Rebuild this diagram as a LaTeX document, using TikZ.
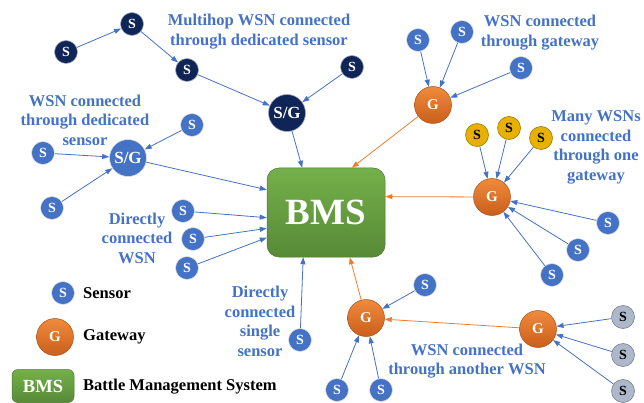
\documentclass[tikz,border=0pt]{standalone}
\usepackage{fontspec}
\setmainfont{Liberation Serif}
\usetikzlibrary{arrows.meta}

\definecolor{wsnblue}{HTML}{4472C4}
\definecolor{hopnavy}{HTML}{0F2557}
\definecolor{gwtop}{HTML}{F08A3C}
\definecolor{gwbot}{HTML}{C95F1C}
\definecolor{gwline}{HTML}{ED7D31}
\definecolor{bmstop}{HTML}{74B04A}
\definecolor{bmsbot}{HTML}{578A36}
\definecolor{sgold}{HTML}{E8B000}
\definecolor{sgrey}{HTML}{ADB9CA}

\tikzset{
	% circles for sensors and gateways
	sensor/.style={circle, minimum size=23pt, inner sep=0pt, fill=wsnblue,
		draw=white!75!gray, line width=0.6pt, text=white,
		font=\fontsize{14}{14}\selectfont\bfseries},
	hopsensor/.style={sensor, fill=hopnavy, draw=white!60!hopnavy},
	goldsensor/.style={sensor, fill=sgold, draw=sgold!70!black, text=black},
	greysensor/.style={sensor, fill=sgrey, draw=sgrey!70!black, text=black},
	sgnode/.style={sensor, minimum size=37pt, font=\fontsize{17}{17}\selectfont\bfseries},
	gateway/.style={circle, minimum size=37pt, inner sep=0pt, top color=gwtop,
		bottom color=gwbot, draw=gwbot!85!black, line width=0.5pt, text=white,
		font=\fontsize{15}{15}\selectfont\bfseries},
	bmsbox/.style={rectangle, rounded corners=12pt, top color=bmstop,
		bottom color=bmsbot, draw=bmsbot!85!black, line width=0.5pt, text=white},
	% text next to the groups
	note/.style={align=center, text=wsnblue, inner sep=0pt,
		font=\fontsize{16.5}{19.5}\selectfont\bfseries},
	keytext/.style={anchor=west, inner sep=0pt,
		font=\fontsize{16.5}{19.5}\selectfont\bfseries},
	% connectors
	link/.style={-{Triangle[length=7pt,width=5pt]}, wsnblue, line width=0.8pt},
	gwlink/.style={link, gwline}
}

\begin{document}
\begin{tikzpicture}[x=1pt, y=-1pt]
	\useasboundingbox (0,0) rectangle (644,403);

	% battle management system
	\node[bmsbox, minimum width=118pt, minimum height=89pt,
		font=\fontsize{37}{37}\selectfont\bfseries] (bms) at (326,212.5) {BMS};

	% multihop wsn through dedicated sensor
	\node[hopsensor] (m1) at (66,52) {S};
	\node[hopsensor] (m2) at (132,24) {S};
	\node[hopsensor] (m3) at (187,70) {S};
	\node[hopsensor] (m4) at (352,67) {S};
	\node[sgnode, fill=hopnavy, draw=white!60!hopnavy] (sgd) at (287,113) {S/G};
	\node[note] (multihop) at (259,31.5) {Multihop WSN connected\\through dedicated sensor};
	\draw[link] (m1) -- (m2);
	\draw[link] (m2) -- (m3);
	\draw[link] (m3) -- (sgd);
	\draw[link] (m4) -- (sgd);
	\draw[link] (sgd) -- (bms.118);

	% wsn through dedicated sensor
	\node[sgnode] (sgb) at (128,158) {S/G};
	\node[sensor] (b1) at (43,153) {S};
	\node[sensor] (b2) at (192,125) {S};
	\node[sensor] (b3) at (52,208) {S};
	\node[note] (dedicated) at (85,120) {WSN connected\\through dedicated\\sensor};
	\draw[link] (b1) -- (sgb);
	\draw[link] (b2) -- (sgb);
	\draw[link] (b3) -- (sgb);
	\draw[link] (sgb) -- (bms.159);

	% directly connected wsn
	\node[sensor] (d1) at (183,211) {S};
	\node[sensor] (d2) at (193,239) {S};
	\node[sensor] (d3) at (187,268) {S};
	\node[note] (direct) at (137,238) {Directly\\connected\\WSN};
	\draw[link] (d1) -- (bms.185);
	\draw[link] (d2) -- (bms.195);
	\draw[link] (d3) -- (bms.203);

	% directly connected single sensor
	\node[sensor] (ss) at (300,340) {S};
	\node[note] (single) at (260,321.5) {Directly\\connected\\single\\sensor};
	\draw[link] (ss) -- (bms.-117);

	% wsn through gateway
	\node[gateway] (gt) at (433,105) {G};
	\node[sensor] (t1) at (418,40) {S};
	\node[sensor] (t2) at (462,32) {S};
	\node[sensor] (t3) at (521,68) {S};
	\node[note] (throughgw) at (540,32.5) {WSN connected\\through gateway};
	\draw[link] (t1) -- (gt);
	\draw[link] (t2) -- (gt);
	\draw[link] (t3) -- (gt);
	\draw[gwlink] (gt) -- (bms.60);

	% many wsns through one gateway
	\node[gateway] (gr) at (492,197) {G};
	\node[goldsensor] (y1) at (477,135) {S};
	\node[goldsensor] (y2) at (509,128) {S};
	\node[goldsensor] (y3) at (541,138) {S};
	\node[sensor] (r1) at (608,223) {S};
	\node[sensor] (r2) at (578,250) {S};
	\node[sensor] (r3) at (552,275) {S};
	\node[note] (many) at (596,147.5) {Many WSNs\\connected\\through one\\gateway};
	\foreach \s in {y1,y2,y3,r1,r2,r3} {
		\draw[link] (\s) -- (gr);
	}
	\draw[gwlink] (gr) -- (bms.15);

	% wsn through another wsn
	\node[gateway] (gb) at (366,318) {G};
	\node[sensor] (w1) at (425,285) {S};
	\node[sensor] (w2) at (337,390) {S};
	\node[sensor] (w3) at (381,390) {S};
	\node[gateway] (gf) at (538,329) {G};
	\node[greysensor] (q1) at (623,317) {S};
	\node[greysensor] (q2) at (623,355) {S};
	\node[greysensor] (q3) at (623,391) {S};
	\node[note] (another) at (467,361) {WSN connected\\through another WSN};
	\foreach \s in {w1,w2,w3} {
		\draw[link] (\s) -- (gb);
	}
	\foreach \s in {q1,q2,q3} {
		\draw[link] (\s) -- (gf);
	}
	\draw[gwlink] (gf) -- (gb);
	\draw[gwlink] (gb) -- (bms.-62);

	% legend
	\node[sensor] (keys) at (63,293) {S};
	\node[keytext] (keystext) at (83,293) {Sensor};
	\node[gateway] (keyg) at (55,337) {G};
	\node[keytext] (keygtext) at (83,337) {Gateway};
	\node[bmsbox, rounded corners=6pt, minimum width=62pt, minimum height=33pt,
		font=\fontsize{18.5}{18.5}\selectfont\bfseries] (keyb) at (43,386) {BMS};
	\node[keytext] (keybtext) at (83,387) {Battle Management System};
\end{tikzpicture}
\end{document}
